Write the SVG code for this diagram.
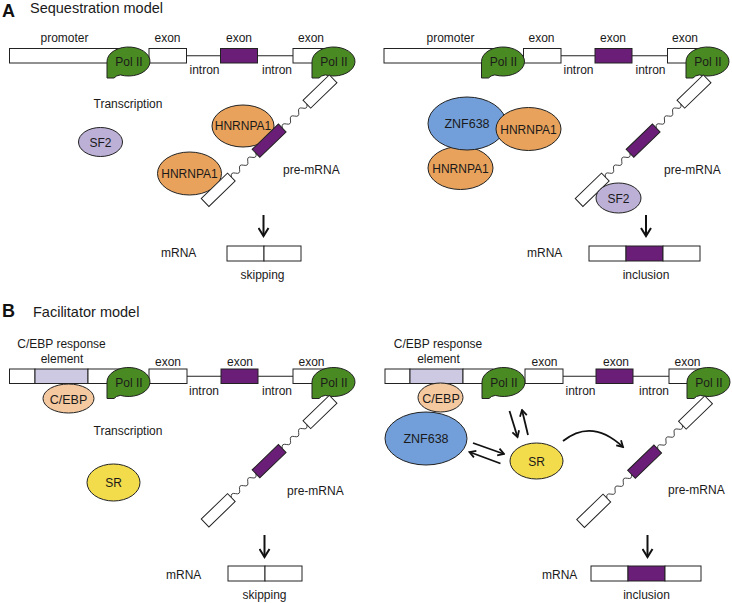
<svg xmlns="http://www.w3.org/2000/svg" xmlns:xlink="http://www.w3.org/1999/xlink" width="732" height="603" viewBox="0 0 732 603">
<style>
.t{font-family:"Liberation Sans",Arial,Helvetica,sans-serif;font-size:12px;fill:#1a1a1a}
.c{text-anchor:middle}
.h{font-size:14.5px}
.L{font-size:18px;font-weight:bold;fill:#111}
.w{fill:#fff;stroke:#222;stroke-width:1}
.p{fill:#6b1e78;stroke:#222;stroke-width:1}
.lav{fill:#cdc9e2;stroke:#222;stroke-width:1}
.ln{stroke:#222;stroke-width:1;fill:none}
.wave{fill:none;stroke:#222;stroke-width:0.8}
.pol{fill:#4a8a22;stroke:#222;stroke-width:1}
.hn{fill:#e9a25c;stroke:#222;stroke-width:1}
.sf{fill:#bcb0d6;stroke:#222;stroke-width:1}
.zn{fill:#729fd9;stroke:#222;stroke-width:1}
.ce{fill:#f5c9a0;stroke:#222;stroke-width:1}
.sr{fill:#f3dc4c;stroke:#222;stroke-width:1}
.arr{stroke:#111;stroke-width:2;fill:none;marker-end:url(#ah)}
.arr2{stroke:#111;stroke-width:1.8;fill:none;marker-end:url(#ah2)}
</style>
<defs>
<marker id="ah" markerUnits="userSpaceOnUse" markerWidth="12" markerHeight="12" viewBox="0 0 12 12" refX="10" refY="6" orient="auto">
<path d="M2,1 L10,6 L2,11" fill="none" stroke="#111" stroke-width="2"/>
</marker>
<marker id="ah2" markerUnits="userSpaceOnUse" markerWidth="10" markerHeight="10" viewBox="0 0 10 10" refX="8.5" refY="5" orient="auto">
<path d="M2.5,1.5 L8.5,5 L2.5,8.5" fill="none" stroke="#111" stroke-width="1.8"/>
</marker>
<path id="polshape" d="M-21.5,0 A21.5,14.5 0 1 1 -8.2,13.4 Q-12.5,14 -14.5,16.5 L-21.5,16.5 Z"/>
<g id="strand">
<rect x="-18.25" y="-5.5" width="36.5" height="11" class="w"/>
<path d="M18.25,0 q2.85,-4.5 5.7,0 t5.7,0 t5.7,0 t5.7,0 t5.7,0 t5.7,0" class="wave"/>
<rect x="52.5" y="-5.5" width="36.5" height="11" class="p"/>
<path d="M89,0 q2.85,-4.5 5.7,0 t5.7,0 t5.7,0 t5.7,0 t5.7,0 t5.7,0" class="wave"/>
<rect x="123.25" y="-5.5" width="36.5" height="11" class="w"/>
</g>
</defs>
<rect width="732" height="603" fill="#fff"/>

<!-- Panel labels -->
<text class="t L" x="2" y="16.5">A</text>
<text class="t h" x="30" y="12.5">Sequestration model</text>
<text class="t L" x="2" y="317">B</text>
<text class="t h" x="33" y="317">Facilitator model</text>

<!-- ===== A left gene ===== -->
<g id="geneA1">
<line class="ln" x1="186.5" y1="55.75" x2="220.5" y2="55.75"/>
<line class="ln" x1="257.5" y1="55.75" x2="293" y2="55.75"/>
<rect class="w" x="9.5" y="48.5" width="110" height="14.5"/>
<rect class="w" x="149" y="48.5" width="37.5" height="14.5"/>
<rect class="p" x="220.5" y="48.5" width="37" height="14.5"/>
<rect class="w" x="293" y="48.5" width="36" height="14.5"/>
<text class="t c" x="64.5" y="42">promoter</text>
<text class="t c" x="167.5" y="42">exon</text>
<text class="t c" x="239" y="42">exon</text>
<text class="t c" x="311" y="42">exon</text>
<text class="t c" x="204.5" y="74">intron</text>
<text class="t c" x="277" y="74">intron</text>
</g>
<g id="polA1a"><use xlink:href="#polshape" class="pol" transform="translate(128.5,61.5)"/><text class="t c" x="129" y="66">Pol II</text></g>
<g id="polA1b"><use xlink:href="#polshape" class="pol" transform="translate(333.5,61.5)"/><text class="t c" x="334" y="66">Pol II</text></g>
<text class="t c" x="128" y="108">Transcription</text>
<g id="sf2A1"><ellipse class="sf" cx="100.5" cy="142" rx="22" ry="14.5"/><text class="t c" x="100.5" y="146.5">SF2</text></g>
<g id="hnA1a"><ellipse class="hn" cx="243" cy="126" rx="31" ry="21"/><text class="t c" x="243" y="130.3">HNRNPA1</text></g>
<g id="hnA1b"><ellipse class="hn" cx="189.5" cy="173.5" rx="32" ry="21.5"/><text class="t c" x="189.5" y="178">HNRNPA1</text></g>
<use xlink:href="#strand" transform="translate(320,91.5) rotate(136)"/>
<text class="t" x="283" y="174">pre-mRNA</text>
<text class="t" x="161" y="257">mRNA</text>
<g id="mrnaA1"><rect class="w" x="227" y="246" width="37" height="15"/><rect class="w" x="264" y="246" width="37" height="15"/></g>
<text class="t c" x="262.5" y="279">skipping</text>

<!-- ===== A right gene ===== -->
<g id="geneA2">
<line class="ln" x1="561" y1="55.75" x2="595" y2="55.75"/>
<line class="ln" x1="632" y1="55.75" x2="667.5" y2="55.75"/>
<rect class="w" x="384" y="48.5" width="110" height="14.5"/>
<rect class="w" x="523.5" y="48.5" width="37.5" height="14.5"/>
<rect class="p" x="595" y="48.5" width="37" height="14.5"/>
<rect class="w" x="667.5" y="48.5" width="36" height="14.5"/>
<text class="t c" x="450.5" y="42">promoter</text>
<text class="t c" x="541.5" y="42">exon</text>
<text class="t c" x="613" y="42">exon</text>
<text class="t c" x="685" y="42">exon</text>
<text class="t c" x="578.5" y="74">intron</text>
<text class="t c" x="650.5" y="74">intron</text>
</g>
<g id="polA2a"><use xlink:href="#polshape" class="pol" transform="translate(503,61.5)"/><text class="t c" x="503.5" y="66">Pol II</text></g>
<g id="polA2b"><use xlink:href="#polshape" class="pol" transform="translate(707.5,61.5)"/><text class="t c" x="708" y="66">Pol II</text></g>
<g id="hnA2b"><ellipse class="hn" cx="460.5" cy="168" rx="32.5" ry="21.5"/><text class="t c" x="460.5" y="172.5">HNRNPA1</text></g>
<g id="znA2"><ellipse class="zn" cx="467" cy="123.5" rx="39" ry="26.5"/><text class="t c" x="467" y="128" style="font-size:12.5px">ZNF638</text></g>
<g id="hnA2a"><ellipse class="hn" cx="528.5" cy="129" rx="32.5" ry="21.5"/><text class="t c" x="528.5" y="133.5">HNRNPA1</text></g>
<use xlink:href="#strand" transform="translate(694,91.5) rotate(136)"/>
<g id="sf2A2"><ellipse class="sf" cx="618.5" cy="198" rx="22.5" ry="15"/><text class="t c" x="618.5" y="202.5">SF2</text></g>
<text class="t" x="664" y="174">pre-mRNA</text>
<text class="t" x="527" y="257">mRNA</text>
<g id="mrnaA2"><rect class="w" x="589" y="246" width="37" height="15"/><rect class="p" x="626" y="246" width="37" height="15"/><rect class="w" x="663" y="246" width="37" height="15"/></g>
<text class="t c" x="646" y="279">inclusion</text>

<!-- ===== B left gene ===== -->
<g id="geneB1">
<line class="ln" x1="187" y1="376.25" x2="221" y2="376.25"/>
<line class="ln" x1="258" y1="376.25" x2="293" y2="376.25"/>
<rect class="w" x="9.5" y="369" width="25.5" height="14.5"/>
<rect class="lav" x="35" y="369" width="53" height="14.5"/>
<rect class="w" x="88" y="369" width="32" height="14.5"/>
<rect class="w" x="149" y="369" width="38" height="14.5"/>
<rect class="p" x="221" y="369" width="37" height="14.5"/>
<rect class="w" x="293" y="369" width="36" height="14.5"/>
<text class="t c" x="61.5" y="347.5">C/EBP response</text>
<text class="t c" x="62" y="363">element</text>
<text class="t c" x="168" y="365.5">exon</text>
<text class="t c" x="240" y="365.5">exon</text>
<text class="t c" x="311.5" y="365.5">exon</text>
<text class="t c" x="204" y="395">intron</text>
<text class="t c" x="277" y="395">intron</text>
</g>
<g id="polB1a"><use xlink:href="#polshape" class="pol" transform="translate(128.5,382)"/><text class="t c" x="129" y="386.5">Pol II</text></g>
<g id="polB1b"><use xlink:href="#polshape" class="pol" transform="translate(333.5,382)"/><text class="t c" x="334" y="386.5">Pol II</text></g>
<g id="cebpB1"><ellipse class="ce" cx="68.5" cy="398.5" rx="25.5" ry="14.5"/><text class="t c" x="68.5" y="403.5" style="font-size:12.5px">C/EBP</text></g>
<text class="t c" x="128" y="435">Transcription</text>
<g id="srB1"><ellipse class="sr" cx="113.5" cy="482.5" rx="26.5" ry="18.5"/><text class="t c" x="113.5" y="487">SR</text></g>
<use xlink:href="#strand" transform="translate(320,412) rotate(136)"/>
<text class="t" x="287" y="494.5">pre-mRNA</text>
<text class="t" x="166" y="579">mRNA</text>
<g id="mrnaB1"><rect class="w" x="228" y="566" width="37" height="15"/><rect class="w" x="265" y="566" width="37" height="15"/></g>
<text class="t c" x="264.5" y="598.5">skipping</text>

<!-- ===== B right gene ===== -->
<g id="geneB2">
<line class="ln" x1="563" y1="376.25" x2="596" y2="376.25"/>
<line class="ln" x1="633" y1="376.25" x2="669" y2="376.25"/>
<rect class="w" x="385" y="369" width="25" height="14.5"/>
<rect class="lav" x="410" y="369" width="53" height="14.5"/>
<rect class="w" x="463" y="369" width="30" height="14.5"/>
<rect class="w" x="525" y="369" width="38" height="14.5"/>
<rect class="p" x="596" y="369" width="37" height="14.5"/>
<rect class="w" x="669" y="369" width="36" height="14.5"/>
<text class="t c" x="438" y="348">C/EBP response</text>
<text class="t c" x="438.5" y="363">element</text>
<text class="t c" x="544.5" y="365.5">exon</text>
<text class="t c" x="616" y="365.5">exon</text>
<text class="t c" x="687.5" y="365.5">exon</text>
<text class="t c" x="580.5" y="395">intron</text>
<text class="t c" x="654" y="395">intron</text>
</g>
<g id="polB2a"><use xlink:href="#polshape" class="pol" transform="translate(503.5,382)"/><text class="t c" x="504" y="386.5">Pol II</text></g>
<g id="polB2b"><use xlink:href="#polshape" class="pol" transform="translate(708.5,382)"/><text class="t c" x="709" y="386.5">Pol II</text></g>
<g id="cebpB2"><ellipse class="ce" cx="440.5" cy="397.5" rx="22.5" ry="14.5"/><text class="t c" x="441" y="402.5" style="font-size:12.5px">C/EBP</text></g>
<g id="znB2"><ellipse class="zn" cx="426" cy="438.5" rx="41" ry="26.5"/><text class="t c" x="426" y="443" style="font-size:12.5px">ZNF638</text></g>
<g id="srB2"><ellipse class="sr" cx="536.5" cy="461" rx="26.5" ry="18"/><text class="t c" x="536.5" y="465.5">SR</text></g>
<use xlink:href="#strand" transform="translate(695.5,412.5) rotate(136)"/>
<text class="t" x="668" y="494">pre-mRNA</text>
<text class="t" x="542" y="579">mRNA</text>
<g id="mrnaB2"><rect class="w" x="591" y="566" width="37" height="15"/><rect class="p" x="628" y="566" width="37" height="15"/><rect class="w" x="665" y="566" width="36" height="15"/></g>
<text class="t c" x="646.5" y="598.5">inclusion</text>

<!-- ===== connectors ===== -->
<g id="connectors">
<line class="arr" x1="263.5" y1="215" x2="263.5" y2="236"/>
<line class="arr" x1="646" y1="215" x2="646" y2="236"/>
<line class="arr" x1="264.5" y1="535" x2="264.5" y2="557"/>
<line class="arr" x1="647.5" y1="535" x2="647.5" y2="557"/>
<line class="arr2" x1="509.5" y1="411" x2="517.5" y2="437"/>
<line class="arr2" x1="528" y1="435" x2="522" y2="410"/>
<line class="arr2" x1="473" y1="443" x2="504" y2="454"/>
<line class="arr2" x1="500.5" y1="463.5" x2="469.5" y2="452"/>
<path class="arr2" d="M563,441 Q592,418 623,447"/>
</g>
</svg>
